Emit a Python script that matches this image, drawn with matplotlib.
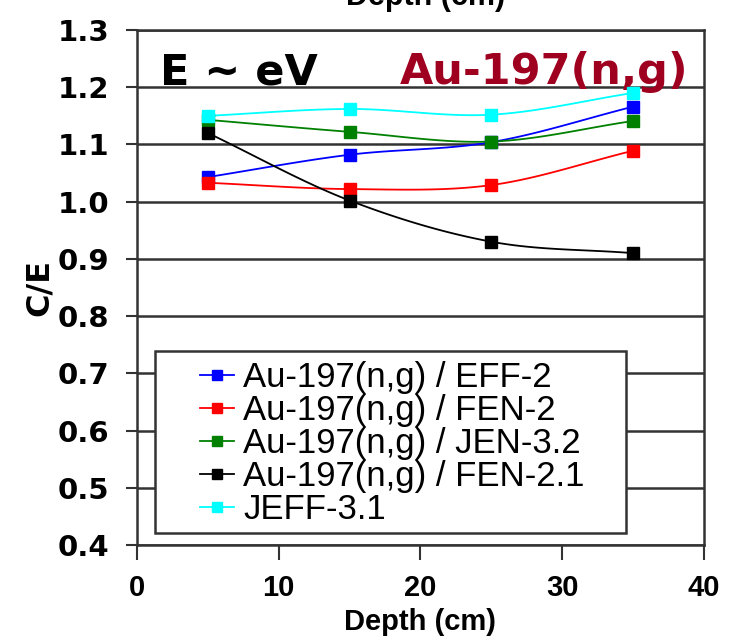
import numpy as np
import matplotlib
matplotlib.use("Agg")
import matplotlib.pyplot as plt
from matplotlib.patches import Rectangle

# Depth positions (cm) and C/E values per evaluated library
depth = [5, 15, 25, 35]
eff2 = [1.043, 1.082, 1.104, 1.166]
fen2 = [1.033, 1.022, 1.029, 1.089]
jen32 = [1.143, 1.122, 1.105, 1.141]
fen21 = [1.120, 1.002, 0.930, 0.910]
jeff31 = [1.150, 1.162, 1.152, 1.190]

labels = ["Au-197(n,g) / EFF-2", "Au-197(n,g) / FEN-2", "Au-197(n,g) / JEN-3.2",
          "Au-197(n,g) / FEN-2.1", "JEFF-3.1"]
colors = ["#0000FF", "#FF0000", "#008000", "#000000", "#00FFFF"]
series = [eff2, fen2, jen32, fen21, jeff31]

x_ticks = [0, 10, 20, 30, 40]
y_ticks = [0.4, 0.5, 0.6, 0.7, 0.8, 0.9, 1.0, 1.1, 1.2, 1.3]


def smooth(xs, ys, n=30):
    """Catmull-Rom curve through the points (spreadsheet-style smoothed line)."""
    xs = np.asarray(xs, float)
    ys = np.asarray(ys, float)
    px = np.concatenate([[2 * xs[0] - xs[1]], xs, [2 * xs[-1] - xs[-2]]])
    py = np.concatenate([[2 * ys[0] - ys[1]], ys, [2 * ys[-1] - ys[-2]]])
    ox, oy = [], []
    t = np.linspace(0, 1, n)
    for i in range(1, len(px) - 2):
        for p, o in ((px, ox), (py, oy)):
            p0, p1, p2, p3 = p[i - 1], p[i], p[i + 1], p[i + 2]
            o.extend(0.5 * (2 * p1 + (-p0 + p2) * t
                            + (2 * p0 - 5 * p1 + 4 * p2 - p3) * t ** 2
                            + (-p0 + 3 * p1 - 3 * p2 + p3) * t ** 3))
    return ox, oy


fig = plt.figure(figsize=(7.44, 6.41), dpi=100)
ax = fig.add_axes([0.1841, 0.1498, 0.9462 - 0.1841, 0.9532 - 0.1498])

for ys, c, lab in zip(series, colors, labels):
    sx, sy = smooth(depth, ys)
    ax.plot(sx, sy, color=c, lw=1.3, zorder=3)
    ax.plot(depth, ys, ls="none", marker="s", ms=8, color=c, zorder=4)
    ax.plot([], [], color=c, lw=1.3, marker="s", ms=7, label=lab)

ax.set_xlim(0, 40)
ax.set_ylim(0.4, 1.3)
ax.set_xticks(x_ticks)
ax.set_yticks(y_ticks)
ax.set_xticklabels([str(v) for v in x_ticks], fontfamily="Liberation Sans",
                   fontweight="bold", fontsize=21)
ax.set_yticklabels([f"{v:.1f}" for v in y_ticks], fontfamily="DejaVu Sans",
                   fontweight="bold", fontsize=21)
ax.tick_params(axis="y", direction="out", length=8, width=1.5, pad=12, color="#333333")
ax.tick_params(axis="x", direction="out", length=11, width=1.5, pad=10, color="#333333")
ax.yaxis.grid(True, color="#333333", lw=1.8, zorder=1)
for s in ax.spines.values():
    s.set_color("#333333")
    s.set_linewidth(1.8)

ax.set_xlabel("Depth (cm)", fontfamily="Liberation Sans", fontweight="bold",
              fontsize=21)
ax.xaxis.set_label_coords(0.5, -0.1223)
ax.set_ylabel("C/E", fontfamily="DejaVu Sans", fontweight="bold", fontsize=23,
              labelpad=2)

ax.text(0.0404, 0.895, "E ~ eV", transform=ax.transAxes, fontfamily="DejaVu Sans",
        fontweight="bold", fontsize=31, color="black", va="baseline", ha="left")
ax.text(0.972, 0.895, "Au-197(n,g)", transform=ax.transAxes, fontfamily="DejaVu Sans",
        fontweight="bold", fontsize=31, color="#A00020", va="baseline", ha="right")

fig.text(0.572, 1 - 12 / 641, "Depth (cm)", fontfamily="Liberation Sans",
         fontweight="bold", fontsize=22, ha="center", va="bottom")

# Legend frame
ax.add_patch(Rectangle((0.0316, 0.0233), 0.8314, 0.3534, transform=ax.transAxes,
                       facecolor="white", edgecolor="#333333", lw=1.8, zorder=5))
leg = ax.legend(loc="upper left", bbox_to_anchor=(0.1107, 0.357),
                prop={"family": "Liberation Sans", "size": 25},
                frameon=False, labelspacing=0.0, handlelength=1.0,
                handletextpad=0.25, borderpad=0, borderaxespad=0)
leg.set_zorder(6)

fig.savefig("out.png", dpi=100, facecolor="white")
